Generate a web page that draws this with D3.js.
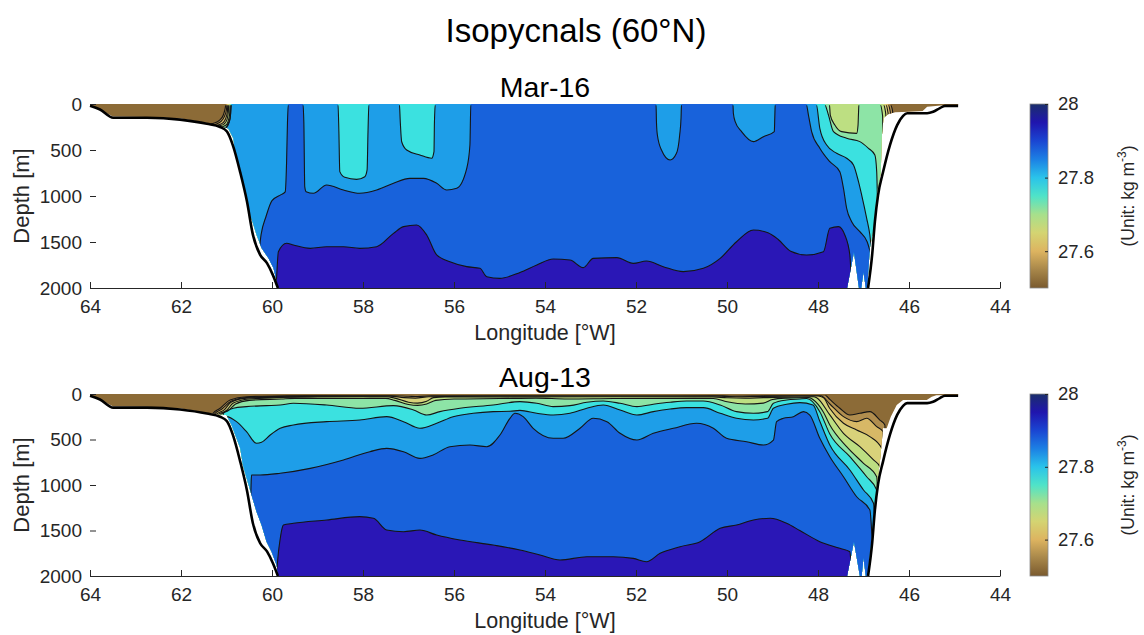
<!DOCTYPE html>
<html>
<head>
<meta charset="utf-8">
<script src="https://cdn.jsdelivr.net/npm/d3@7/dist/d3.min.js"></script>
<style>
  body { margin: 0; background: #fff; }
  svg { display: block; font-family: "Liberation Sans", Arial, Helvetica, sans-serif; }
</style>
</head>
<body>
<svg id="chart" width="1144" height="635"></svg>
<script>
// ---- density levels (kg m^-3) and fill colour of each band between them ----
const levels = [27.5, 27.55, 27.6, 27.65, 27.7, 27.75, 27.8, 27.85, 27.9];
const bandColors = ["#8c6b37", "#b08d4e", "#d7b866", "#d8d27a", "#bddf82",
                    "#8de4a6", "#3be1e0", "#1e9ee8", "#1862db", "#2a17b6"];
const lonTicks = [64, 62, 60, 58, 56, 54, 52, 50, 48, 46, 44];
const depthTicks = [0, 500, 1000, 1500, 2000];
const cbarTicks = [27.6, 27.8, 28];
const cbarStops = [
  [27.5, "#7a5a2e"], [27.55, "#a8874a"], [27.6, "#ddb460"], [27.65, "#d4d472"],
  [27.7, "#a6e08c"], [27.75, "#4fe3c8"], [27.8, "#2ac3ea"], [27.85, "#1c80e4"],
  [27.9, "#1a45d2"], [27.95, "#2015ae"], [28.0, "#1b2f6b"]
];

// ---- seafloor along the section: [longitude °W, depth m] ----
const bathyWest = [[64.0, 20], [63.78, 60], [63.49, 150], [62.75, 150], [62.02, 170],
  [61.43, 215], [61.14, 250], [60.99, 300], [60.86, 450], [60.70, 740], [60.55, 1060],
  [60.42, 1420], [60.26, 1640], [60.11, 1730], [59.98, 1860], [59.87, 2000]];
const bathyEast = [[46.90, 2000], [46.81, 1640], [46.75, 1280], [46.68, 990], [46.57, 740],
  [46.42, 450], [46.26, 230], [46.13, 130], [46.04, 100], [45.60, 100], [45.47, 85],
  [45.32, 45], [45.21, 20], [44.92, 20]];

// ---- deepest valid observation at each longitude ----
const marDataLimit = [[64.0, 15], [63.8, 55], [63.5, 135], [62.75, 140], [62.0, 158],
  [61.45, 205], [61.15, 240], [60.96, 265], [60.85, 373], [60.78, 627], [60.70, 844],
  [60.59, 1020], [60.48, 1200], [60.34, 1420], [60.23, 1565], [60.08, 1675], [59.97, 1780],
  [59.86, 2000], [47.36, 2000], [47.21, 1610], [47.10, 2000], [47.05, 2000], [47.0, 1830],
  [46.95, 2000], [46.92, 2000], [46.86, 1565], [46.78, 1350], [46.71, 990], [46.62, 740],
  [46.60, 370], [46.56, 150], [46.45, 110], [46.3, 90], [46.0, 85], [45.7, 75], [45.6, 30],
  [45.3, 15], [45.0, 10], [44.92, 10]];
const augDataLimit = [[64.0, 15], [63.8, 55], [63.5, 135], [62.75, 140], [62.0, 158],
  [61.45, 205], [61.15, 225], [61.0, 231], [60.89, 340], [60.70, 593], [60.64, 780],
  [60.56, 923], [60.45, 1110], [60.34, 1293], [60.23, 1440], [60.12, 1623], [60.01, 1733],
  [59.90, 1880], [59.86, 2000], [47.36, 2000], [47.21, 1623], [47.08, 2000], [47.04, 2000],
  [47.0, 1800], [46.95, 2000], [46.92, 2000], [46.84, 1660], [46.78, 1363], [46.71, 1000],
  [46.64, 744], [46.57, 374], [46.49, 377], [46.4, 250], [46.27, 120], [46.13, 66],
  [45.61, 66], [45.5, 30], [45.4, 15], [44.92, 10]];

// ---- isopycnal depths [longitude °W, depth m], March 2016 ----
const mar2750 = [[64, 2000], [61.46, 2000], [61.45, 232], [61.3, 212], [61.15, 175], [61.07, 120],
  [61.03, 50], [61.01, 0], [46.42, 0], [46.36, 80], [46.33, 2000], [44.9, 2000]];
const mar2755 = [[64, 2000], [61.42, 2000], [61.41, 240], [61.25, 222], [61.12, 190], [61.05, 140],
  [61.0, 60], [60.99, 0], [46.47, 0], [46.41, 90], [46.38, 2000], [44.9, 2000]];
const mar2760 = [[64, 2000], [61.36, 2000], [61.35, 245], [61.2, 230], [61.08, 205], [61.02, 160],
  [60.98, 80], [60.97, 0], [46.52, 0], [46.46, 100], [46.43, 2000], [44.9, 2000]];
const mar2765 = [[64, 2000], [61.3, 2000], [61.29, 250], [61.15, 238], [61.05, 215], [60.99, 170],
  [60.96, 90], [60.95, 0], [46.57, 0], [46.51, 110], [46.48, 2000], [44.9, 2000]];
const mar2770 = [[64, 2000], [61.2, 2000], [61.19, 255], [61.08, 245], [61.0, 225], [60.96, 180],
  [60.93, 100], [60.92, 0], [47.75, 0], [47.73, 120], [47.63, 228], [47.48, 300], [47.15, 319],
  [47.12, 230], [47.11, 100], [47.10, 0], [46.64, 0], [46.58, 130], [46.55, 2000], [44.9, 2000]];
const mar2775 = [[64, 2000], [61.1, 2000], [61.09, 260], [61.0, 250], [60.94, 200], [60.91, 110],
  [60.9, 0], [47.86, 0], [47.77, 120], [47.66, 300], [47.37, 373], [47.08, 409], [46.89, 482],
  [46.75, 554], [46.71, 735], [46.65, 2000], [44.9, 2000]];
const mar2780 = [[64, 2000], [61.02, 2000], [61.0, 265], [60.92, 150], [60.89, 0],
  [58.55, 0], [58.53, 300], [58.51, 735], [58.40, 797], [58.14, 819], [57.96, 790], [57.91, 717],
  [57.89, 300], [57.87, 0], [57.20, 0], [57.18, 200], [57.15, 410], [57.04, 500], [56.75, 554],
  [56.49, 590], [56.44, 518], [56.43, 200], [56.41, 0], [48.04, 0], [47.96, 264], [47.81, 446],
  [47.59, 536], [47.37, 590], [47.22, 663], [47.11, 844], [47.04, 990], [46.93, 1243],
  [46.86, 1424], [46.75, 2000], [44.9, 2000]];
const mar2785 = [[64, 2000], [61.05, 2000], [60.6, 1900], [60.3, 1650], [60.24, 1420],
  [60.13, 1220], [60.0, 1050], [59.8, 985], [59.71, 955], [59.68, 640], [59.66, 200], [59.64, 0],
  [59.32, 0], [59.30, 200], [59.28, 900], [59.25, 953], [59.09, 970], [58.80, 880], [58.43, 935],
  [58.07, 970], [57.70, 935], [57.33, 862], [56.97, 808], [56.67, 808], [56.38, 862], [56.16, 935],
  [55.94, 916], [55.72, 699], [55.65, 446], [55.63, 0], [51.56, 0], [51.55, 200], [51.53, 337],
  [51.44, 500], [51.25, 609], [51.11, 536], [51.04, 337], [51.01, 150], [51.00, 0], [49.87, 0],
  [49.86, 100], [49.82, 192], [49.68, 300], [49.42, 409], [49.20, 355], [48.96, 300], [48.95, 150],
  [48.94, 0], [48.26, 0], [48.21, 120], [48.14, 300], [47.96, 480], [47.74, 627], [47.52, 736],
  [47.44, 917], [47.37, 1134], [47.26, 1280], [47.08, 1388], [46.92, 1497], [46.80, 1700],
  [46.6, 2000], [44.9, 2000]];
const mar2790 = [[64, 2000], [59.92, 2000], [59.86, 1605], [59.68, 1514], [59.53, 1533],
  [59.16, 1569], [58.80, 1551], [58.43, 1551], [58.07, 1569], [57.70, 1551], [57.33, 1406],
  [57.11, 1333], [56.82, 1315], [56.60, 1424], [56.38, 1641], [56.09, 1714], [55.72, 1768],
  [55.43, 1786], [55.28, 1877], [54.99, 1895], [54.55, 1831], [54.18, 1750], [53.82, 1685],
  [53.45, 1696], [53.16, 1779], [52.94, 1678], [52.42, 1670], [52.06, 1732], [51.77, 1707],
  [51.40, 1768], [50.96, 1822], [50.52, 1786], [50.15, 1678], [49.79, 1497], [49.42, 1370],
  [49.1, 1400], [48.88, 1470], [48.6, 1600], [48.25, 1641], [47.88, 1605], [47.74, 1351],
  [47.55, 1333], [47.41, 1424], [47.30, 1641], [47.25, 2000], [44.9, 2000]];

// ---- isopycnal depths [longitude °W, depth m], August 2013 ----
const aug2750 = [[64, 2000], [61.32, 2000], [61.30, 215], [61.14, 157], [60.92, 66], [60.56, 30],
  [59.82, 20], [59.0, 12], [57.0, 9], [52.0, 9], [48.2, 8], [47.85, 10], [47.74, 60], [47.52, 157],
  [47.30, 231], [47.08, 212], [46.86, 194], [46.64, 286], [46.53, 341], [46.50, 2000], [44.9, 2000]];
const aug2755 = [[64, 2000], [61.28, 2000], [61.26, 218], [61.1, 165], [60.9, 80], [60.56, 38],
  [59.8, 26], [59.0, 18], [57.5, 16], [57.0, 24], [56.8, 28], [56.5, 18], [55.0, 15], [52.0, 14],
  [50.3, 15], [49.7, 22], [49.3, 19], [48.5, 15], [47.95, 15], [47.74, 110], [47.44, 249],
  [47.15, 304], [46.93, 267], [46.71, 359], [46.57, 414], [46.54, 2000], [44.9, 2000]];
const aug2760 = [[64, 2000], [61.24, 2000], [61.22, 222], [61.05, 175], [60.9, 90], [60.56, 45],
  [59.8, 32], [59.0, 25], [57.4, 23], [57.1, 40], [56.85, 45], [56.55, 30], [55.0, 22], [50.3, 22],
  [49.8, 30], [49.3, 26], [48.0, 22], [47.88, 40], [47.74, 160], [47.44, 322], [47.15, 396],
  [46.86, 469], [46.60, 597], [46.56, 2000], [44.9, 2000]];
const aug2765 = [[64, 2000], [61.2, 2000], [61.18, 226], [61.0, 180], [60.85, 100], [60.5, 55],
  [59.8, 38], [59.0, 32], [57.5, 30], [57.3, 45], [57.0, 90], [56.8, 100], [56.6, 80], [56.45, 40],
  [56.2, 32], [52.0, 30], [50.3, 32], [50.0, 42], [49.6, 45], [49.2, 40], [48.1, 30], [48.03, 40],
  [47.74, 230], [47.44, 432], [47.08, 579], [46.78, 725], [46.64, 799], [46.6, 2000], [44.9, 2000]];
const aug2770 = [[64, 2000], [61.15, 2000], [61.13, 228], [60.95, 180], [60.8, 110], [60.5, 70],
  [59.8, 55], [59.5, 48], [58.5, 50], [57.5, 48], [57.3, 70], [57.0, 115], [56.8, 125], [56.6, 110],
  [56.4, 70], [56.0, 55], [55.0, 50], [54.2, 45], [53.5, 55], [52.5, 50], [51.0, 48], [50.3, 50],
  [50.0, 85], [49.6, 110], [49.2, 100], [49.0, 60], [48.7, 45], [48.2, 38], [48.11, 60],
  [47.88, 200], [47.74, 340], [47.37, 579], [47.0, 762], [46.71, 909], [46.62, 2000], [44.9, 2000]];
const aug2775 = [[64, 2000], [61.1, 2000], [61.07, 212], [60.85, 157], [60.56, 139], [60.12, 128],
  [59.82, 121], [59.53, 102], [58.80, 121], [58.07, 157], [57.33, 128], [56.89, 176], [56.60, 231],
  [56.31, 194], [55.87, 157], [55.14, 121], [54.55, 84], [54.18, 102], [53.82, 139], [53.45, 128],
  [53.08, 91], [52.72, 77], [52.35, 102], [51.98, 139], [51.62, 113], [51.25, 91], [50.89, 77],
  [50.52, 77], [50.15, 121], [49.79, 194], [49.42, 212], [49.11, 194], [48.98, 102], [48.69, 66],
  [48.4, 55], [48.25, 50], [47.96, 194], [47.74, 440], [47.30, 689], [46.93, 909], [46.71, 1055],
  [46.65, 2000], [44.9, 2000]];
const aug2780 = [[64, 2000], [61.03, 2000], [61.0, 249], [60.78, 304], [60.56, 414], [60.34, 542],
  [60.23, 531], [60.04, 451], [59.82, 377], [59.53, 341], [58.80, 304], [58.07, 286], [57.48, 249],
  [57.11, 304], [56.75, 377], [56.38, 322], [56.02, 249], [55.58, 212], [55.14, 194], [54.77, 190],
  [54.55, 180], [54.18, 212], [53.82, 231], [53.45, 212], [53.08, 157], [52.72, 121], [52.35, 176],
  [51.98, 231], [51.62, 194], [51.25, 165], [50.89, 150], [50.52, 150], [50.15, 212], [49.79, 267],
  [49.42, 286], [49.11, 267], [48.98, 157], [48.69, 113], [48.4, 95], [48.11, 121], [47.96, 300],
  [47.74, 560], [47.30, 835], [47.0, 1055], [46.78, 1201], [46.7, 2000], [44.9, 2000]];
const aug2785 = [[64, 2000], [60.5, 2000], [60.46, 1000], [60.45, 890], [60.26, 890], [59.82, 871],
  [59.16, 817], [58.43, 725], [57.85, 634], [57.48, 597], [57.11, 634], [56.75, 707], [56.46, 670],
  [56.09, 579], [55.65, 561], [55.28, 579], [54.99, 451], [54.77, 267], [54.66, 212], [54.48, 249],
  [54.26, 377], [53.82, 487], [53.60, 487], [53.23, 377], [52.94, 267], [52.64, 304], [52.35, 432],
  [51.98, 506], [51.62, 432], [51.18, 377], [50.67, 322], [50.30, 377], [50.01, 487], [49.57, 524],
  [49.20, 561], [48.98, 506], [48.91, 304], [48.76, 267], [48.54, 249], [48.32, 194], [48.18, 231],
  [47.96, 487], [47.74, 689], [47.44, 909], [47.15, 1129], [46.86, 1275], [46.75, 2000], [44.9, 2000]];
const aug2790 = [[64, 2000], [59.92, 2000], [59.85, 1700], [59.78, 1480], [59.75, 1440],
  [59.53, 1421], [58.80, 1385], [58.07, 1348], [57.77, 1366], [57.48, 1495], [57.11, 1513],
  [56.75, 1495], [56.38, 1550], [55.87, 1605], [55.14, 1660], [54.55, 1714], [54.11, 1769],
  [53.67, 1824], [53.08, 1788], [52.50, 1788], [52.06, 1806], [51.77, 1843], [51.47, 1751],
  [51.03, 1678], [50.59, 1623], [50.15, 1476], [49.79, 1440], [49.42, 1385], [49.05, 1366],
  [48.69, 1421], [48.40, 1500], [47.96, 1623], [47.52, 1696], [47.30, 1733], [47.25, 2000],
  [44.9, 2000]];

// ---- figure layout ----
const svg = d3.select("#chart");
const ink = "#262626";
const font = "Liberation Sans, Arial, sans-serif";
const x = d3.scaleLinear().domain([64, 44]).range([90, 1000]);
const cbar = { x: 1030, w: 18 };
const panels = [
  { title: "Mar-16", top: 104, bottom: 288, iso: [mar2750, mar2755, mar2760, mar2765, mar2770, mar2775, mar2780, mar2785, mar2790], limit: marDataLimit },
  { title: "Aug-13", top: 394, bottom: 576, iso: [aug2750, aug2755, aug2760, aug2765, aug2770, aug2775, aug2780, aug2785, aug2790], limit: augDataLimit }
];

svg.append("text")
  .attr("x", 576).attr("y", 42)
  .attr("text-anchor", "middle")
  .attr("font-size", 33).attr("fill", "#000")
  .text("Isopycnals (60°N)");

const defs = svg.append("defs");

// colour bar gradient
const cScale = d3.scaleLinear().domain([27.5, 28]).range([0, 1]);
const grad = defs.append("linearGradient").attr("id", "cbarGrad")
  .attr("x1", 0).attr("y1", 1).attr("x2", 0).attr("y2", 0);
cbarStops.forEach(([v, c]) => grad.append("stop").attr("offset", cScale(v)).attr("stop-color", c));

panels.forEach((p, i) => {
  const y = d3.scaleLinear().domain([0, 2000]).range([p.top, p.bottom]);
  const g = svg.append("g");

  // region where observations exist
  const maskPts = [[64, 0], [44.92, 0]].concat(p.limit.slice().reverse());
  const maskPath = d3.line().x(d => x(d[0])).y(d => y(d[1]))(maskPts) + "Z";
  defs.append("clipPath").attr("id", "mask" + i).append("path").attr("d", maskPath);
  defs.append("clipPath").attr("id", "inner" + i).append("rect")
    .attr("x", x(64)).attr("y", p.top + 1.2).attr("width", x(44) - x(64)).attr("height", p.bottom - p.top - 2.4);

  const area = d3.area().x(d => x(d[0])).y0(d => y(d[1])).y1(y(2000)).curve(d3.curveMonotoneX);
  const line = d3.line().x(d => x(d[0])).y(d => y(d[1])).curve(d3.curveMonotoneX);

  // filled density bands: lightest water first, each denser class painted below its isopycnal
  const fills = g.append("g").attr("clip-path", `url(#mask${i})`);
  fills.append("rect").attr("x", x(64)).attr("y", p.top)
    .attr("width", x(44) - x(64)).attr("height", p.bottom - p.top)
    .attr("fill", bandColors[0]);
  fills.selectAll("path.band").data(p.iso).join("path")
    .attr("class", "band")
    .attr("d", area)
    .attr("fill", (d, k) => bandColors[k + 1]);

  // isopycnal contour lines
  const lines = g.append("g").attr("clip-path", `url(#mask${i})`)
    .append("g").attr("clip-path", `url(#inner${i})`);
  lines.selectAll("path.iso").data(p.iso).join("path")
    .attr("class", "iso")
    .attr("d", line)
    .attr("fill", "none").attr("stroke", "#151515").attr("stroke-width", 1.1);

  // land below the seafloor and the seafloor outline
  const landW = bathyWest.concat([[64, 2000]]);
  const landE = bathyEast.concat([[44.0, 20], [44.0, 2000]]);
  const poly = d3.line().x(d => x(d[0])).y(d => y(d[1]));
  g.append("path").attr("d", poly(landW) + "Z").attr("fill", "#fff");
  g.append("path").attr("d", poly(landE) + "Z").attr("fill", "#fff");
  [bathyWest, bathyEast].forEach(b => {
    g.append("path").attr("d", line(b)).attr("fill", "none")
      .attr("stroke", "#000").attr("stroke-width", 2.6).attr("stroke-linejoin", "round");
  });

  // axes
  const xAxis = d3.axisBottom(x).tickValues(lonTicks).tickFormat(d3.format("d"))
    .tickSizeInner(-6).tickSizeOuter(0).tickPadding(12);
  const ax = g.append("g").attr("transform", `translate(0,${p.bottom})`).call(xAxis);
  ax.select(".domain").attr("stroke", ink);
  ax.selectAll(".tick line").attr("stroke", ink);
  ax.selectAll("text").attr("font-size", 19).attr("fill", ink).attr("font-family", font);

  const yAxis = d3.axisLeft(y).tickValues(depthTicks).tickFormat(d3.format("d"))
    .tickSizeInner(-6).tickSizeOuter(0).tickPadding(8);
  const ay = g.append("g").attr("transform", `translate(${x(64)},0)`).call(yAxis);
  ay.select(".domain").remove();
  ay.selectAll(".tick line").attr("stroke", ink);
  ay.selectAll("text").attr("font-size", 19).attr("fill", ink).attr("font-family", font);

  g.append("text").attr("x", (x(64) + x(44)) / 2).attr("y", p.bottom + 52)
    .attr("text-anchor", "middle").attr("font-size", 21.5).attr("fill", ink)
    .text("Longitude [°W]");
  g.append("text").attr("transform", `translate(29,${(p.top + p.bottom) / 2}) rotate(-90)`)
    .attr("text-anchor", "middle").attr("font-size", 22).attr("fill", ink)
    .text("Depth [m]");
  g.append("text").attr("x", (x(64) + x(44)) / 2).attr("y", p.top - 7)
    .attr("text-anchor", "middle").attr("font-size", 28.5).attr("fill", "#000")
    .text(p.title);

  // colour bar
  const cy = d3.scaleLinear().domain([27.5, 28]).range([p.bottom, p.top]);
  g.append("rect").attr("x", cbar.x).attr("y", p.top).attr("width", cbar.w)
    .attr("height", p.bottom - p.top).attr("fill", "url(#cbarGrad)")
    .attr("stroke", "#8a8a8a").attr("stroke-width", 0.8);
  const cAxis = d3.axisRight(cy).tickValues(cbarTicks).tickFormat(d => d3.format("")(d))
    .tickSizeInner(-3).tickSizeOuter(0).tickPadding(10);
  const ac = g.append("g").attr("transform", `translate(${cbar.x + cbar.w},0)`).call(cAxis);
  ac.select(".domain").remove();
  ac.selectAll(".tick line").attr("stroke", ink);
  ac.selectAll("text").attr("font-size", 18.5).attr("fill", ink).attr("font-family", font);

  const unit = g.append("text")
    .attr("transform", `translate(1134,${(p.top + p.bottom) / 2}) rotate(-90)`)
    .attr("text-anchor", "middle").attr("font-size", 17.5).attr("fill", ink);
  unit.append("tspan").text("(Unit: kg m");
  unit.append("tspan").attr("font-size", 12).attr("dy", -8).text("-3");
  unit.append("tspan").attr("dy", 8).text(")");
});
</script>
</body>
</html>
